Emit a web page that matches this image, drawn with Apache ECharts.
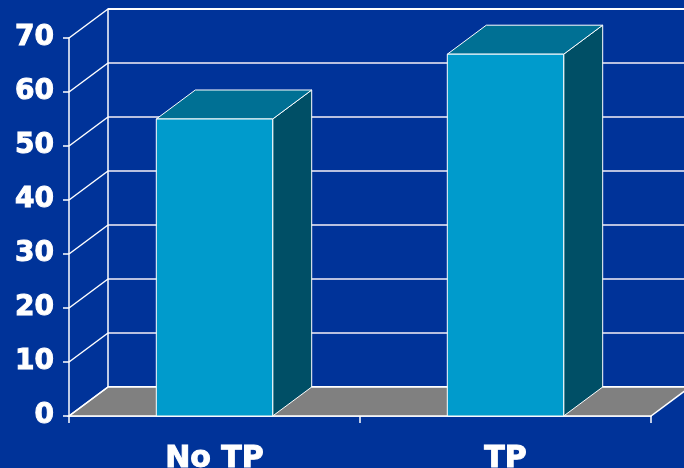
<!DOCTYPE html>
<html>
<head>
<meta charset="utf-8">
<script src="https://cdn.jsdelivr.net/npm/echarts@6/dist/echarts.min.js"></script>
<style>
html,body{margin:0;padding:0;background:#003399;}
#chart{width:684px;height:468px;}
</style>
</head>
<body>
<div id="chart"></div>
<script>
var categories = ['No TP', 'TP'];
var values = [55, 67];
var yTicks = [0, 10, 20, 30, 40, 50, 60, 70];

var DX = 39, DY = -29;
var chart = echarts.init(document.getElementById('chart'), null, {renderer: 'canvas'});
var FONT = '"DejaVu Sans", Arial, sans-serif';

function barItem(params, api) {
  var idx = api.value(0), v = api.value(1);
  var top = api.coord([idx, v]);
  var base = api.coord([idx, 0]);
  var bw = api.size([1, 0])[0] * 0.4;
  var x0 = top[0] - bw / 2, x1 = top[0] + bw / 2;
  var yt = top[1], yb = base[1];
  var stroke = {stroke: '#ffffff', lineWidth: 1};
  return {
    type: 'group',
    children: [
      {type: 'polygon', shape: {points: [[x1, yt], [x1 + DX, yt + DY], [x1 + DX, yb + DY], [x1, yb]]},
        style: Object.assign({fill: '#004f66'}, stroke)},
      {type: 'polygon', shape: {points: [[x0, yt], [x0 + DX, yt + DY], [x1 + DX, yt + DY], [x1, yt]]},
        style: Object.assign({fill: '#007094'}, stroke)},
      {type: 'rect', shape: {x: x0, y: yt, width: bw, height: yb - yt},
        style: Object.assign({fill: '#009bcc'}, stroke)}
    ]
  };
}

function floorItem(params, api) {
  var cs = params.coordSys;
  var yb = cs.y + cs.height;
  return {
    type: 'polygon',
    shape: {points: [[cs.x, yb], [cs.x + cs.width, yb], [cs.x + cs.width + DX, yb + DY], [cs.x + DX, yb + DY]]},
    style: {fill: '#808080', stroke: '#ffffff', lineWidth: 1.5}
  };
}

function wallItem(params, api) {
  var cs = params.coordSys;
  var p = api.coord([0, api.value(1)]);
  var x = cs.x;
  return {
    type: 'line',
    shape: {x1: x, y1: p[1], x2: x + DX, y2: p[1] + DY},
    style: {stroke: '#ffffff', lineWidth: 1.5}
  };
}

var option = {
  backgroundColor: '#003399',
  animation: false,
  grid: [
    {left: 69, right: 33, top: 38, bottom: 52, containLabel: false, outerBoundsMode: 'none'},
    {left: 108, right: -6, top: 9, bottom: 81, containLabel: false, outerBoundsMode: 'none'}
  ],
  xAxis: [
    {type: 'category', gridIndex: 0, data: categories, boundaryGap: true,
      axisLine: {lineStyle: {color: '#ffffff', width: 1.5}},
      axisTick: {show: true, length: 7, lineStyle: {color: '#ffffff', width: 1.5}},
      axisLabel: {color: '#ffffff', fontFamily: FONT, fontWeight: 'bold', fontSize: 30, margin: 28,
        textBorderColor: '#ffffff', textBorderWidth: 1}},
    {type: 'category', gridIndex: 1, data: categories, show: false}
  ],
  yAxis: [
    {type: 'value', gridIndex: 0, min: 0, max: 70, interval: 10,
      axisLine: {show: true, lineStyle: {color: '#ffffff', width: 1.5}},
      axisTick: {show: true, length: 6, lineStyle: {color: '#ffffff', width: 1.5}},
      splitLine: {show: false},
      axisLabel: {color: '#ffffff', fontFamily: FONT, fontWeight: 'bold', fontSize: 28, margin: 15,
        textBorderColor: '#ffffff', textBorderWidth: 1}},
    {type: 'value', gridIndex: 1, min: 0, max: 70, interval: 10,
      axisLine: {show: true, lineStyle: {color: '#ffffff', width: 1.5}},
      axisTick: {show: false}, axisLabel: {show: false},
      splitLine: {show: true, lineStyle: {width: 2,
        color: ['#ffffff', '#b8c0e0', '#b8c0e0', '#b8c0e0', '#b8c0e0', '#b8c0e0', '#b8c0e0', '#ffffff']}}}
  ],
  series: [
    {type: 'custom', xAxisIndex: 0, yAxisIndex: 0, z: 3, renderItem: floorItem, data: [[0, 0]], clip: false},
    {type: 'custom', xAxisIndex: 0, yAxisIndex: 0, z: 3, renderItem: wallItem,
      data: yTicks.map(function (t) { return [0, t]; }), clip: false},
    {type: 'custom', xAxisIndex: 0, yAxisIndex: 0, z: 4, renderItem: barItem,
      data: values.map(function (v, i) { return [i, v]; }), clip: false}
  ]
};
chart.setOption(option);
</script>
</body>
</html>
